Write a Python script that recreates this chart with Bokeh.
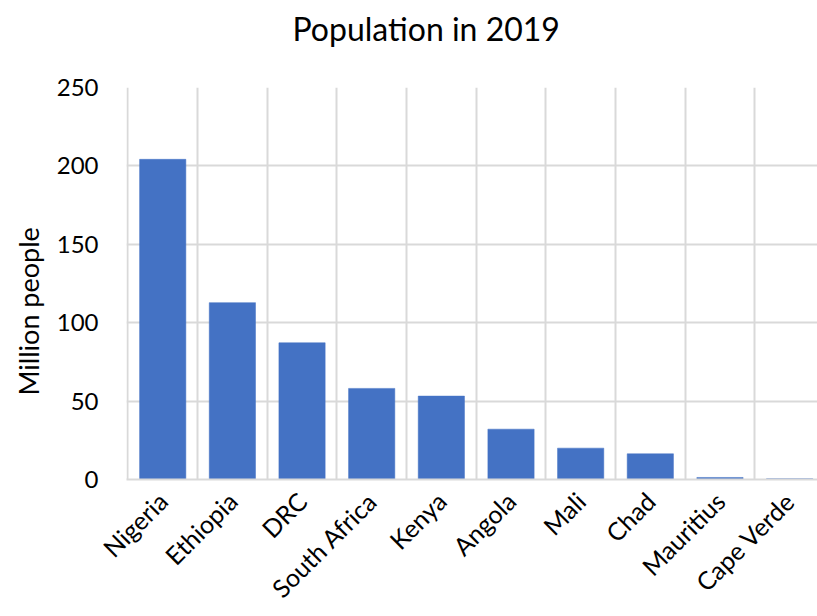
import math
from bokeh.plotting import figure
from bokeh.models import Range1d, FixedTicker, Title
from bokeh.embed import file_html
from bokeh.resources import INLINE

countries = ["Nigeria", "Ethiopia", "DRC", "South Africa", "Kenya", "Angola",
             "Mali", "Chad", "Mauritius", "Cape Verde"]
population = [204.2, 112.8, 87.2, 58.1, 53.2, 32.1, 20.0, 16.4, 1.3, 0.55]
y_ticks = [0, 50, 100, 150, 200, 250]

FONT = "Lato"
GRID = "#d9d9d9"

n = len(countries)
centers = [i + 0.5 for i in range(n)]

p = figure(width=817, height=616, output_backend="svg", toolbar_location=None,
           x_range=Range1d(-0.02, 9.9), y_range=Range1d(0, 250),
           min_border_left=125, min_border_right=0, min_border_top=87,
           min_border_bottom=137)
p.outline_line_color = None

p.vbar(x=centers, top=population, width=0.664, bottom=0,
       fill_color="#4472C4", line_color="#4472C4", line_width=0.5)

# gap between title and plot area
spacer = Title(text=" ", text_font=FONT, text_font_size="10px", standoff=26)
p.add_layout(spacer, "above")

t = Title(text="Population in 2019", text_font=FONT, text_font_size="32px",
          text_font_style="normal", text_color="#000000", align="left",
          offset=166, standoff=0)
p.add_layout(t, "above")

# y axis
p.yaxis.ticker = FixedTicker(ticks=y_ticks)
p.yaxis.axis_line_color = None
p.yaxis.major_tick_line_color = None
p.yaxis.minor_tick_line_color = None
p.yaxis.major_label_text_font = FONT
p.yaxis.major_label_text_font_size = "24px"
p.yaxis.major_label_text_color = "#000000"
p.yaxis.major_label_standoff = 22

ytitle = Title(text="Million people", text_font=FONT, text_font_size="27px",
               text_font_style="normal", text_color="#000000", align="left",
               offset=84, standoff=18)
p.add_layout(ytitle, "left")

# x axis
p.xaxis.ticker = FixedTicker(ticks=centers)
p.xaxis.major_label_overrides = {c: name for c, name in zip(centers, countries)}
p.xaxis.major_label_orientation = math.pi / 4
p.xaxis.axis_line_color = GRID
p.xaxis.axis_line_width = 2
p.xaxis.major_tick_line_color = None
p.xaxis.minor_tick_line_color = None
p.xaxis.major_label_text_font = FONT
p.xaxis.major_label_text_font_size = "25px"
p.xaxis.major_label_text_color = "#000000"
p.xaxis.major_label_standoff = 11

# grids
p.ygrid.grid_line_color = GRID
p.ygrid.grid_line_width = 2
p.xgrid.ticker = FixedTicker(ticks=list(range(n + 1)))
p.xgrid.grid_line_color = GRID
p.xgrid.grid_line_width = 2

open("out.html", "w").write(file_html(p, INLINE))
